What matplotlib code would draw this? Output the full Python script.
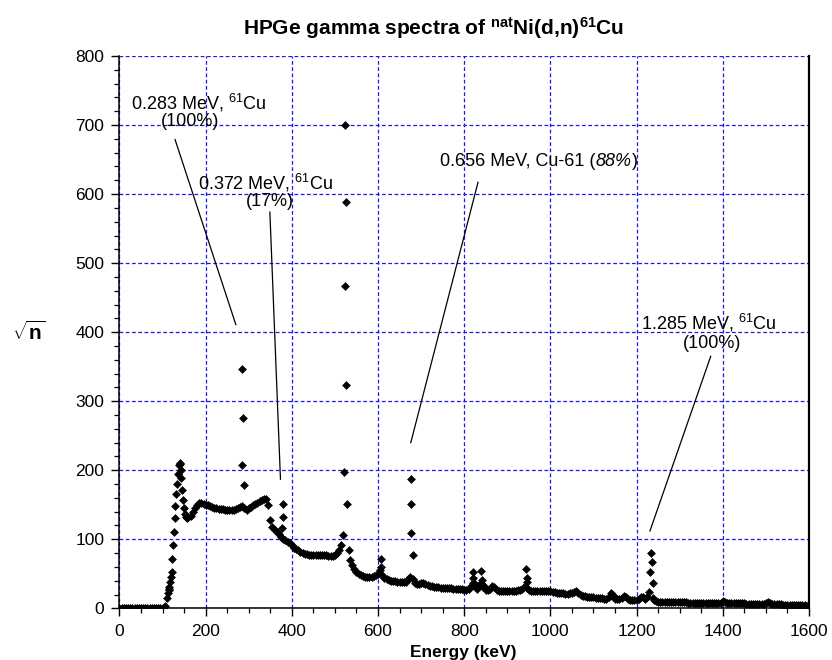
"""HPGe gamma spectrum of natNi(d,n)61Cu — sqrt(counts) vs energy."""

import matplotlib

matplotlib.use("Agg")
import matplotlib.pyplot as plt
import numpy as np
from matplotlib.ticker import MultipleLocator

plt.rcParams["font.family"] = ["Liberation Sans", "DejaVu Sans"]
plt.rcParams["mathtext.fontset"] = "custom"
plt.rcParams["mathtext.rm"] = "Liberation Sans"
plt.rcParams["mathtext.it"] = "Liberation Sans:italic"
plt.rcParams["mathtext.bf"] = "Liberation Sans:bold"

# continuum, one value per 5 keV channel group (NaN where the peak points take over)
nan = np.nan
cont_energy = np.arange(0, 1605, 5)
cont_sqrt_n = [
    0, 0, 0, 0, 0, 0, 0, 0, 0, 0,                                  # 0
    0, 0, 0, 0, 0, 0, 0, 0, 0, 0,                                  # 50
    0, 4, 15, 28, nan, nan, nan, nan, nan, nan,                    # 100
    nan, nan, 132, 134, 139, 145, 150, 152, 152, 151,              # 150
    150, 149, 148, 147, 146, 145, 144.5, 144, 143.5, 143,          # 200
    143, 142.5, 142.5, 143, 144, 145, 147, 148, 145, 143,          # 250
    145, 147, 149, 151, 153, 155, 157, 159, 158, 150,              # 300
    128, 118, 113, 110, 107, 104, 101, 99, 96, 94,                 # 350
    91, 88, 86, 84, 82, 80, 79, 78, 77.5, 77,                      # 400
    77, 77, 77, 77, 77, 77, 77, 76.5, 76, 75.5,                    # 450
    77, 80, 85, 92, nan, nan, nan, 70, 63, 57,                     # 500
    53, 50, 48, 47, 46, 45.5, 45.5, 46, 47, 48,                    # 550
    49, 55, 48, 44, 42, 41, 40, 39.5, 39, 38.5,                    # 600
    38.5, 38, 38, 38, 42, 46, 42, 37, 35, 35,                      # 650
    36, 36, 35, 34, 33, 32, 31.5, 31, 30.5, 30,                    # 700
    30, 29.5, 29.5, 29, 29, 28.5, 28.5, 28, 28, 27.5,              # 750
    27, 27, 28, 32, 36, 33, 28, 32, 36, 32,                        # 800
    27, 26, 28, 32, 31, 27, 25, 24.5, 24.5, 24.5,                  # 850
    24.5, 25, 25, 25, 25.5, 26, 26, 28, 32, 30,                    # 900
    26, 25, 25, 25, 25.5, 25.5, 25.5, 25.5, 25.5, 25.5,            # 950
    25, 24, 23, 22.5, 22, 21.5, 21.5, 21, 21, 21.5,                # 1000
    22, 24, 25, 22, 20, 18.5, 17.5, 17, 16.5, 16.5,                # 1050
    16, 15.5, 15, 15, 14.5, 14, 14, 16, 22, 20,                    # 1100
    14, 13.5, 13.5, 15, 18, 16, 13, 12.5, 12, 12,                  # 1150
    12, 14, 17, 16, 13, 16, nan, nan, 12, 10,                      # 1200
    9.5, 9.5, 9.4, 9.3, 9.2, 9.1, 9, 9, 8.9, 8.8,                  # 1250
    8.7, 8.6, 8.5, 8.5, 8.4, 8.3, 8.2, 8.2, 8.1, 8,                # 1300
    8, 7.9, 7.9, 7.8, 7.8, 7.7, 7.7, 7.6, 7.6, 8,                  # 1350
    11, 8.5, 7.5, 7.4, 7.3, 7.2, 7.2, 7.1, 7, 7,                   # 1400
    7, 6.9, 6.8, 6.8, 6.7, 6.6, 6.6, 6.5, 6.5, 6.6,                # 1450
    7, 9.5, 7, 6, 5.9, 5.8, 5.7, 5.6, 5.5, 5.4,                    # 1500
    5.3, 5.2, 5.1, 5, 4.9, 4.8, 4.7, 4.5, 4.3, 4,                  # 1550
    3.5,                                                           # 1600
]

# individual channels on the steep edges and photopeaks
peak_energy = [
    112, 114, 116, 118, 120, 121.5, 123, 124.5, 126, 128, 130, 132, 134, 136,
    138, 140, 141, 142, 143.5, 145, 147, 149, 151, 154, 157,
    283.5, 285, 285.5, 288.5,
    377, 378.5, 380,
    518, 521, 522.5, 523.5, 526, 526.5, 529, 532,
    606.5, 608,
    675.5, 676, 677.5, 680.5,
    820, 821, 823, 840, 841, 843,
    944, 945, 946.5,
    1228.5, 1231, 1233, 1235.5, 1237, 1239,
]
peak_sqrt_n = [
    22, 26, 31, 38, 45, 52, 71, 91, 111, 131, 148, 165, 180, 194,
    207, 211, 209, 200, 189, 172, 157, 145, 137, 133, 131,
    207, 347, 276, 179,
    116, 151, 133,
    106, 198, 467, 700, 588, 324, 151, 85,
    71, 60,
    109, 187, 151, 77,
    44, 53, 37, 54.5, 41, 31.5,
    56.5, 43.5, 38.5,
    24, 53, 80.6, 67.6, 36, 14.5,
]

# peak labels: (text line, energy, sqrt n)
label_lines = [
    (r"0.283 MeV, $^{61}$Cu", 184, 732),
    ("(100%)", 164, 705),
    (r"0.372 MeV, $^{61}$Cu", 340, 616),
    ("(17%)", 349, 590),
    (r"1.285 MeV, $^{61}$Cu", 1368, 413),
    ("(100%)", 1374, 384),
]
# the 0.656 MeV label has an italic intensity, drawn in three pieces
cu656_parts = ["0.656 MeV, Cu-61 (", "88%", ")"]
cu656_pos = (744, 647)
# leader lines: ([E0, E1], [n0, n1])
leader_lines = [
    ([129, 270], [679, 411]),
    ([349, 373.6], [574, 187]),
    ([832, 676], [617, 240]),
    ([1372, 1231], [365, 112]),
]

fig = plt.figure(figsize=(8.32, 6.6), dpi=100)
ax = fig.add_axes([0.1436, 0.0783, 0.8287, 0.8368])

ax.plot(cont_energy, cont_sqrt_n, ls="none", marker="D", ms=4.0,
        mec="black", mfc="black", mew=0.4, zorder=3)
ax.plot(peak_energy, peak_sqrt_n, ls="none", marker="D", ms=4.0,
        mec="black", mfc="black", mew=0.4, zorder=3)

for xs, ys in leader_lines:
    ax.plot(xs, ys, color="black", lw=0.9, zorder=4)
for txt, x, y in label_lines:
    ax.text(x, y, txt, ha="center", va="center", fontsize=13, zorder=5)

t1 = ax.text(*cu656_pos, cu656_parts[0], ha="left", va="center", fontsize=13, zorder=5)
t2 = ax.annotate(cu656_parts[1], xy=(1, 0.5), xycoords=t1, ha="left", va="center",
                 fontsize=13, style="italic", zorder=5)
ax.annotate(cu656_parts[2], xy=(1, 0.5), xycoords=t2, ha="left", va="center",
            fontsize=13, zorder=5)

ax.set_xlim(0, 1600)
ax.set_ylim(0, 800)
ax.xaxis.set_major_locator(MultipleLocator(200))
ax.xaxis.set_minor_locator(MultipleLocator(50))
ax.yaxis.set_major_locator(MultipleLocator(100))
ax.yaxis.set_minor_locator(MultipleLocator(20))
ax.tick_params(which="major", direction="out", length=6, width=1, labelsize=12.5, pad=5)
ax.tick_params(which="minor", direction="out", length=3.5, width=0.9)
ax.tick_params(axis="x", which="both", top=False)
ax.tick_params(axis="y", which="both", right=False)

ax.grid(True, which="major", color="#1a1ae6", lw=0.9, ls=(0, (3, 2)), zorder=1)
ax.set_axisbelow(True)
ax.spines["top"].set_visible(False)
ax.spines["right"].set_linewidth(1.6)
ax.spines["left"].set_linewidth(1.1)
ax.spines["bottom"].set_linewidth(1.1)

fig.text(0.521, 0.958, r"HPGe gamma spectra of $^{\mathbf{nat}}$Ni(d,n)$^{\mathbf{61}}$Cu",
         ha="center", va="center", fontsize=15, fontweight="bold")
fig.text(0.035, 0.497, r"$\sqrt{\mathbf{n}}$", ha="center", va="center", fontsize=15)
fig.text(0.557, 0.012, "Energy (keV)", ha="center", va="center",
         fontsize=12.5, fontweight="bold")

fig.savefig("out.png", dpi=100)
